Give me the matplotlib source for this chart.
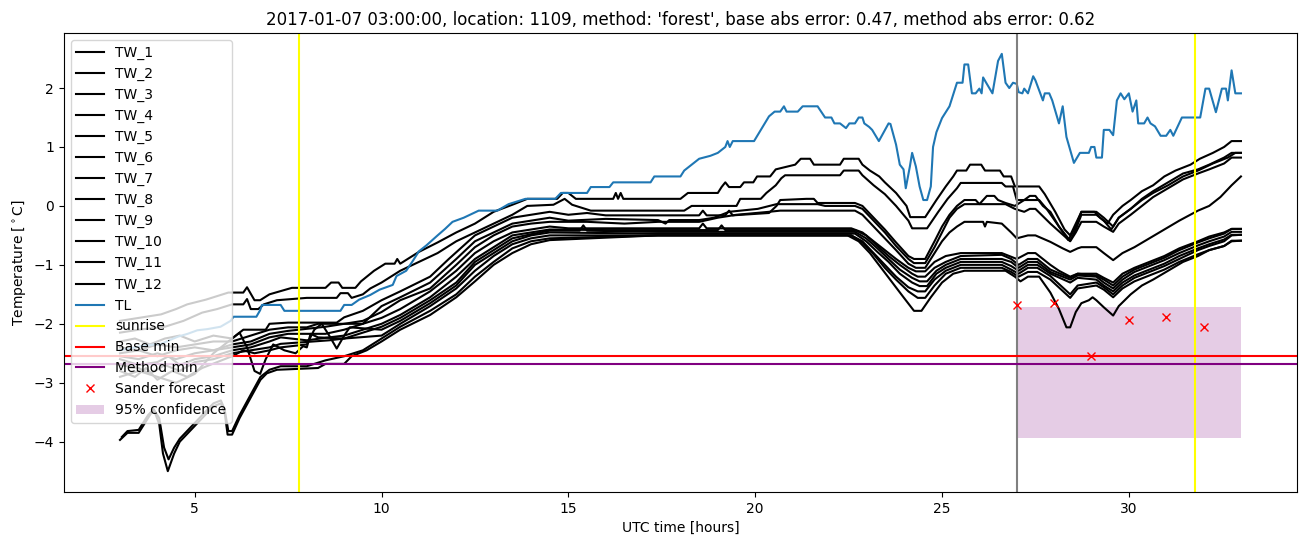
import matplotlib
matplotlib.use('Agg')
import matplotlib.pyplot as plt

title = "2017-01-07 03:00:00, location: 1109, method: 'forest', base abs error: 0.47, method abs error: 0.62"

TL = [(3.0,-2.45),(3.4,-2.4),(3.65,-2.37),(4.1,-2.34),(4.54,-2.22),(4.81,-2.17),(5.07,-2.11),(5.34,-2.09),(5.69,-2.05),(5.96,-1.95),(6.04,-1.88),(6.65,-1.88),(6.75,-1.77),(6.8,-1.68),(7.3,-1.68),(7.4,-1.78),(8.9,-1.78),(9.0,-1.68),(9.2,-1.68),(9.4,-1.59),(9.7,-1.51),(9.95,-1.42),(10.3,-1.34),(10.4,-1.19),(10.66,-1.1),(10.83,-0.94),(11.0,-0.77),(11.2,-0.67),(11.5,-0.5),(11.7,-0.39),(11.9,-0.27),(12.2,-0.2),(12.6,-0.08),(13.1,-0.08),(13.4,0.03),(13.85,0.12),(14.65,0.12),(14.8,0.22),(15.5,0.22),(15.6,0.32),(16.1,0.32),(16.2,0.4),(17.2,0.4),(17.3,0.5),(18.0,0.5),(18.1,0.6),(18.3,0.7),(18.5,0.8),(18.8,0.85),(19.0,0.9),(19.2,1.0),(19.26,1.1),(19.32,1.0),(19.4,1.1),(19.97,1.1),
      (20.37,1.52),(20.52,1.6),(20.67,1.6),(20.77,1.69),(20.84,1.6),(21.14,1.6),(21.27,1.69),(21.67,1.69),(21.87,1.5),(22.04,1.5),(22.12,1.4),(22.27,1.4),(22.43,1.32),(22.52,1.4),(22.67,1.4),(22.77,1.5),(22.87,1.5),(22.92,1.4),(23.05,1.34),(23.13,1.29),(23.31,1.1),(23.57,1.4),(23.62,1.39),(23.77,1.04),(23.87,0.7),(23.97,0.62),(24.03,0.3),
      (24.14,0.67),(24.2,0.9),(24.3,0.67),(24.4,0.33),(24.5,0.1),(24.6,0.1),(24.7,0.33),(24.76,1.0),(24.85,1.25),(25.0,1.49),(25.1,1.59),(25.2,1.69),(25.4,2.09),(25.55,2.09),(25.6,2.4),(25.7,2.4),(25.8,1.91),(25.9,1.91),(26.0,1.99),(26.06,1.91),(26.1,2.18),(26.2,2.07),(26.35,1.91),(26.5,2.46),(26.6,2.58),(26.7,2.09),(26.8,2.0),(26.9,2.09),(27.0,2.07),(27.05,1.93),(27.15,1.91),(27.2,1.99),(27.3,1.91),(27.44,2.2),(27.5,2.13),(27.7,1.79),(27.75,1.91),(27.87,1.91),(27.95,1.79),
      (28.13,1.4),(28.23,1.69),(28.33,1.17),(28.53,0.73),(28.69,0.9),(28.93,0.9),(28.99,1.0),(29.08,1.0),(29.13,0.82),(29.28,0.82),(29.33,1.29),(29.48,1.29),(29.58,1.2),(29.68,1.79),(29.78,1.91),(29.88,1.81),
      (30.0,1.91),(30.1,1.6),(30.2,1.79),(30.25,1.4),(30.41,1.4),(30.5,1.5),(30.58,1.4),(30.7,1.35),(30.85,1.19),(31.0,1.19),(31.11,1.29),(31.19,1.19),(31.42,1.5),(31.91,1.5),(32.05,1.99),(32.15,1.99),(32.33,1.59),(32.49,1.99),(32.6,1.99),(32.65,1.79),(32.75,2.3),(32.85,1.91),(33.0,1.91)]

TW_1 = [(3.0,-1.95),(3.5,-1.9),(4.1,-1.84),(4.5,-1.75),(4.8,-1.67),(5.3,-1.59),(5.9,-1.47),(6.3,-1.47),(6.4,-1.38),(6.6,-1.6),(6.75,-1.6),(7.0,-1.5),(7.6,-1.39),(8.5,-1.39),(8.65,-1.3),(8.85,-1.3),(8.95,-1.39),(9.3,-1.39),(9.45,-1.28),(9.8,-1.1),(10.1,-0.98),(10.35,-0.98),(10.42,-0.9),(10.5,-0.98),(11.0,-0.78),(11.5,-0.62),(12.0,-0.45),(12.5,-0.3),(13.0,-0.1),(13.5,0.02),(13.9,0.12),(14.7,0.12),(14.85,0.22),(15.0,0.22),(15.2,0.12),(16.2,0.12),(16.27,0.22),(16.33,0.12),(16.4,0.22),(16.47,0.12),(18.0,0.12),(18.2,0.22),(19.0,0.22),(19.1,0.32),(19.2,0.4),(19.3,0.32),(19.6,0.32),(19.7,0.4),(19.95,0.4),(20.05,0.5),(20.4,0.5),(20.55,0.62),(21.07,0.7),(21.22,0.8),(21.47,0.8),(21.57,0.7),(22.27,0.7),(22.37,0.8),(22.77,0.8),(22.87,0.7),(23.07,0.6),(23.32,0.5),(23.47,0.4),(23.77,0.22),(24.05,0.0),(24.15,-0.19),(24.55,-0.19),(24.85,0.1),(25.1,0.33),(25.3,0.5),(25.4,0.6),(25.65,0.6),(25.75,0.7),(26.05,0.7),(26.15,0.6),(26.55,0.6),(26.65,0.5),(26.85,0.5),(26.95,0.33),(27.6,0.33),(27.75,0.2),(28.03,-0.1),(28.28,-0.4),(28.43,-0.5),(28.58,-0.3),(28.73,-0.1),(29.08,-0.1),(29.23,-0.2),(29.43,-0.3),(29.58,-0.15),(29.83,0.0),(30.05,0.1),(30.35,0.25),(30.65,0.35),(30.95,0.5),(31.25,0.6),(31.65,0.7),(31.9,0.8),(32.25,0.9),(32.55,1.0),(32.75,1.1),(33.0,1.1)]

TW_2 = [(3.0,-2.15),(3.5,-2.1),(4.2,-2.05),(4.7,-1.95),(5.2,-1.81),(5.6,-1.75),(6.0,-1.67),(6.3,-1.67),(6.4,-1.58),(6.5,-1.75),(6.7,-1.75),(6.85,-1.67),(7.2,-1.6),(8.0,-1.56),(8.8,-1.56),(8.9,-1.48),(9.1,-1.48),(9.2,-1.56),(9.5,-1.5),(9.7,-1.4),(10.0,-1.3),(10.5,-1.1),(11.0,-0.95),(11.5,-0.8),(12.0,-0.6),(12.5,-0.45),(13.0,-0.3),(13.5,-0.15),(13.9,0.0),(14.6,0.02),(14.9,0.12),(15.1,0.02),(15.6,-0.08),(18.1,-0.08),(18.3,0.0),(19.5,0.0),(19.6,0.12),(20.15,0.12),(20.3,0.22),(20.55,0.35),(20.7,0.47),(20.8,0.52),(22.27,0.52),(22.37,0.6),(22.77,0.6),(22.87,0.52),(23.17,0.35),(23.47,0.2),(23.77,0.0),(24.1,-0.25),(24.2,-0.38),(24.6,-0.38),(24.9,-0.1),(25.15,0.12),(25.4,0.3),(25.5,0.39),(26.6,0.39),(26.7,0.33),(26.9,0.33),(27.0,0.1),(27.6,0.1),(27.8,-0.05),(28.13,-0.35),(28.43,-0.59),(28.58,-0.4),(28.73,-0.15),(29.13,-0.15),(29.33,-0.25),(29.53,-0.4),(29.73,-0.2),(30.05,-0.05),(30.35,0.1),(30.65,0.22),(31.05,0.35),(31.45,0.5),(31.85,0.6),(32.25,0.72),(32.65,0.82),(32.85,0.9),(33.0,0.9)]

TW_3 = [(3.0,-2.3),(3.4,-2.25),(3.8,-2.35),(4.2,-2.25),(4.6,-2.2),(5.0,-2.3),(5.5,-2.2),(6.0,-2.25),(6.3,-2.1),(6.9,-2.1),(7.0,-2.0),(7.5,-1.98),(8.8,-1.98),(9.0,-1.89),(9.5,-1.78),(10.0,-1.6),(10.5,-1.45),(11.3,-1.2),(11.8,-0.9),(12.5,-0.5),(13.0,-0.35),(13.5,-0.2),(14.0,-0.15),(14.5,-0.1),(15.0,-0.15),(15.5,-0.12),(16.0,-0.16),(18.5,-0.16),(18.6,-0.08),(18.7,-0.16),(19.2,-0.16),(19.3,-0.08),(19.4,-0.16),(20.37,-0.12),(20.57,0.0),(20.67,0.1),(21.37,0.12),(21.57,0.12),(21.67,0.05),(22.67,0.05),(22.87,0.0),(23.17,-0.2),(23.47,-0.4),(23.77,-0.62),(24.1,-0.85),(24.25,-0.9),(24.55,-0.9),(24.8,-0.6),(25.0,-0.35),(25.2,-0.15),(25.4,0.0),(25.6,0.1),(25.9,0.1),(26.0,0.03),(26.1,0.1),(26.2,0.17),(26.4,0.17),(26.5,0.1),(26.7,0.05),(26.95,0.0),(27.2,0.1),(27.35,0.17),(27.5,0.17),(27.7,0.0),(27.9,-0.1),(28.13,-0.35),(28.38,-0.58),(28.58,-0.35),(28.73,-0.1),(29.13,-0.1),(29.33,-0.2),(29.58,-0.35),(29.73,-0.2),(30.05,-0.05),(30.35,0.12),(30.65,0.25),(31.05,0.4),(31.45,0.55),(31.85,0.62),(32.15,0.7),(32.55,0.82),(32.75,0.9),(33.0,0.9)]

TW_4 = [(3.0,-2.4),(3.5,-2.45),(4.0,-2.35),(4.5,-2.4),(5.0,-2.35),(5.5,-2.3),(6.0,-2.3),(6.5,-2.2),(7.0,-2.1),(7.5,-2.06),(8.0,-2.06),(8.3,-2.0),(9.5,-2.0),(10.0,-1.7),(10.5,-1.55),(11.3,-1.3),(12.0,-0.9),(12.5,-0.6),(13.0,-0.45),(13.5,-0.3),(14.0,-0.25),(14.5,-0.2),(15.0,-0.25),(16.0,-0.22),(17.4,-0.24),(17.6,-0.3),(17.7,-0.24),(18.5,-0.24),(18.9,-0.2),(19.3,-0.1),(20.07,-0.05),(20.57,0.03),(21.67,0.03),(21.87,0.0),(22.67,0.0),(22.87,-0.05),(23.17,-0.25),(23.47,-0.45),(23.77,-0.68),(24.1,-0.9),(24.25,-0.97),(24.55,-0.97),(24.8,-0.7),(25.0,-0.45),(25.2,-0.2),(25.4,-0.05),(25.6,0.03),(26.7,0.03),(26.95,-0.05),(27.2,-0.1),(27.35,-0.05),(27.5,-0.05),(27.9,-0.3),(28.43,-0.6),(28.58,-0.45),(28.73,-0.27),(29.13,-0.27),(29.33,-0.35),(29.58,-0.44),(29.73,-0.3),(30.05,-0.15),(30.35,0.0),(30.65,0.15),(31.05,0.3),(31.45,0.45),(31.85,0.55),(32.15,0.62),(32.55,0.72),(32.75,0.82),(33.0,0.82)]

TW_5 = [(3.0,-2.5),(3.5,-2.45),(4.0,-2.55),(4.5,-2.45),(5.0,-2.4),(5.5,-2.45),(6.0,-2.35),(6.5,-2.3),(7.0,-2.17),(7.5,-2.12),(8.5,-2.05),(9.5,-1.95),(10.0,-1.8),(10.5,-1.6),(11.3,-1.4),(12.0,-1.0),(12.5,-0.7),(13.0,-0.5),(13.5,-0.35),(14.0,-0.3),(14.5,-0.27),(15.5,-0.27),(16.5,-0.3),(17.4,-0.27),(18.5,-0.27),(19.0,-0.2),(19.5,-0.15),(20.37,-0.1),(20.67,-0.08),(22.67,-0.08),(22.87,-0.15),(23.17,-0.35),(23.47,-0.55),(23.77,-0.75),(24.1,-0.98),(24.3,-1.05),(24.55,-1.05),(24.8,-0.8),(25.0,-0.6),(25.2,-0.45),(25.4,-0.35),(25.6,-0.27),(26.1,-0.27),(26.15,-0.35),(26.2,-0.27),(26.6,-0.3),(26.85,-0.45),(27.0,-0.55),(27.3,-0.5),(27.5,-0.5),(27.9,-0.61),(28.23,-0.72),(28.43,-0.78),(28.63,-0.72),(28.73,-0.7),(29.13,-0.7),(29.33,-0.8),(29.58,-0.92),(29.83,-0.8),(30.15,-0.7),(30.55,-0.55),(30.95,-0.4),(31.35,-0.25),(31.85,-0.08),(32.15,0.0),(32.45,0.15),(32.75,0.35),(33.0,0.5)]

TW_6 = [(3.0,-2.55),(3.5,-2.6),(4.0,-2.5),(4.5,-2.6),(5.0,-2.5),(5.5,-2.45),(6.0,-2.4),(6.5,-2.35),(7.0,-2.23),(7.5,-2.17),(8.5,-2.17),(9.0,-2.1),(10.0,-1.9),(10.5,-1.75),(11.3,-1.45),(12.0,-1.1),(12.5,-0.8),(13.0,-0.6),(13.5,-0.45),(14.0,-0.4),(14.5,-0.35),(15.0,-0.38),(18.5,-0.38),(18.6,-0.3),(18.7,-0.38),(22.57,-0.38),(22.87,-0.45),(23.17,-0.6),(23.47,-0.75),(23.77,-0.9),(24.1,-1.05),(24.3,-1.11),(24.55,-1.11),(24.8,-0.95),(25.1,-0.85),(25.5,-0.8),(26.6,-0.8),(26.8,-0.85),(27.0,-0.9),(27.3,-0.8),(27.5,-0.8),(27.9,-1.0),(28.13,-1.1),(28.43,-1.2),(28.63,-1.15),(29.13,-1.15),(29.33,-1.22),(29.58,-1.3),(29.83,-1.15),(30.15,-1.05),(30.55,-0.95),(30.95,-0.85),(31.35,-0.72),(31.85,-0.6),(32.15,-0.52),(32.55,-0.45),(32.75,-0.39),(33.0,-0.39)]

TW_7 = [(3.0,-2.6),(3.5,-2.7),(4.0,-2.65),(4.3,-2.55),(4.6,-2.7),(5.0,-2.6),(5.5,-2.55),(6.0,-2.45),(6.5,-2.4),(7.0,-2.3),(7.3,-2.23),(8.0,-2.28),(8.6,-2.23),(9.0,-2.2),(10.0,-2.0),(10.5,-1.85),(11.3,-1.55),(12.0,-1.2),(12.5,-0.9),(13.0,-0.7),(13.5,-0.5),(14.0,-0.45),(14.5,-0.4),(16.0,-0.41),(19.0,-0.41),(19.1,-0.33),(19.2,-0.41),(22.67,-0.41),(22.97,-0.5),(23.27,-0.68),(23.57,-0.85),(23.87,-1.0),(24.2,-1.15),(24.35,-1.2),(24.55,-1.2),(24.8,-1.05),(25.1,-0.95),(25.5,-0.85),(26.6,-0.83),(26.85,-0.9),(27.05,-1.0),(27.3,-0.9),(27.55,-0.9),(27.9,-1.08),(28.43,-1.22),(28.63,-1.15),(29.13,-1.18),(29.33,-1.25),(29.58,-1.35),(29.83,-1.2),(30.15,-1.08),(30.55,-0.98),(30.95,-0.88),(31.35,-0.75),(31.85,-0.62),(32.15,-0.55),(32.55,-0.47),(32.75,-0.39),(33.0,-0.39)]

TW_8 = [(3.0,-2.7),(3.5,-2.75),(3.8,-2.85),(4.2,-2.7),(4.6,-2.8),(5.0,-2.65),(5.5,-2.6),(6.0,-2.5),(6.5,-2.45),(7.0,-2.4),(7.3,-2.34),(8.6,-2.28),(9.0,-2.25),(10.0,-2.05),(10.5,-1.9),(11.3,-1.6),(12.0,-1.3),(12.5,-0.95),(13.0,-0.75),(13.5,-0.55),(14.0,-0.48),(14.5,-0.42),(15.3,-0.42),(15.4,-0.33),(15.5,-0.42),(17.4,-0.44),(22.67,-0.44),(22.97,-0.55),(23.27,-0.72),(23.57,-0.9),(23.87,-1.08),(24.2,-1.22),(24.4,-1.28),(24.6,-1.28),(24.85,-1.1),(25.1,-1.0),(25.5,-0.9),(26.6,-0.9),(26.85,-0.95),(27.05,-1.05),(27.3,-0.95),(27.55,-0.95),(27.9,-1.12),(28.43,-1.25),(28.63,-1.18),(29.13,-1.2),(29.33,-1.3),(29.58,-1.4),(29.83,-1.25),(30.15,-1.12),(30.55,-1.02),(30.95,-0.92),(31.35,-0.8),(31.85,-0.67),(32.15,-0.6),(32.55,-0.52),(32.75,-0.44),(33.0,-0.44)]

TW_9 = [(3.0,-2.8),(3.4,-2.9),(3.7,-2.75),(4.0,-2.95),(4.4,-2.8),(4.8,-2.9),(5.2,-2.75),(5.6,-2.65),(6.0,-2.55),(6.3,-2.45),(6.6,-2.5),(7.0,-2.45),(7.3,-2.4),(8.0,-2.35),(8.2,-2.1),(8.4,-2.0),(8.6,-2.2),(8.8,-2.42),(9.0,-2.2),(9.15,-2.06),(10.0,-2.1),(10.5,-1.95),(11.3,-1.65),(12.0,-1.35),(12.5,-1.0),(13.0,-0.8),(13.5,-0.6),(14.0,-0.5),(14.5,-0.45),(17.4,-0.47),(22.67,-0.47),(22.97,-0.6),(23.27,-0.78),(23.57,-0.95),(23.87,-1.15),(24.2,-1.3),(24.4,-1.36),(24.6,-1.36),(24.85,-1.15),(25.1,-1.05),(25.5,-0.95),(26.6,-0.95),(26.85,-1.02),(27.05,-1.1),(27.3,-1.0),(27.55,-1.0),(27.9,-1.15),(28.43,-1.3),(28.63,-1.22),(29.13,-1.25),(29.33,-1.35),(29.58,-1.45),(29.83,-1.3),(30.15,-1.18),(30.55,-1.08),(30.95,-0.98),(31.35,-0.85),(31.85,-0.72),(32.15,-0.65),(32.55,-0.57),(32.75,-0.49),(33.0,-0.49)]

TW_10 = [(3.0,-2.9),(3.5,-2.8),(4.0,-2.9),(4.5,-3.0),(5.0,-2.85),(5.5,-2.5),(5.9,-2.3),(6.2,-2.15),(6.4,-2.4),(6.6,-2.8),(6.75,-2.85),(6.9,-2.6),(7.1,-2.35),(7.4,-2.45),(7.7,-2.5),(7.9,-2.38),(8.0,-2.4),(8.1,-2.17),(8.3,-2.23),(9.0,-2.25),(10.0,-2.2),(10.5,-2.0),(11.3,-1.7),(12.0,-1.4),(12.5,-1.1),(13.0,-0.85),(13.5,-0.65),(14.0,-0.55),(14.5,-0.5),(22.57,-0.5),(22.87,-0.6),(23.17,-0.8),(23.47,-1.0),(23.77,-1.2),(24.1,-1.38),(24.35,-1.45),(24.55,-1.45),(24.8,-1.25),(25.1,-1.1),(25.5,-1.0),(26.6,-1.0),(26.85,-1.08),(27.05,-1.15),(27.3,-1.05),(27.55,-1.05),(27.9,-1.19),(28.43,-1.5),(28.63,-1.35),(29.13,-1.3),(29.33,-1.38),(29.58,-1.5),(29.83,-1.35),(30.15,-1.22),(30.55,-1.12),(30.95,-1.02),(31.35,-0.9),(31.85,-0.75),(32.15,-0.68),(32.55,-0.6),(32.75,-0.5),(33.0,-0.49)]

TW_11 = [(3.05,-3.92),(3.2,-3.82),(3.5,-3.8),(3.75,-3.55),(3.9,-3.45),(4.05,-3.6),(4.18,-4.1),(4.3,-4.3),(4.45,-4.1),(4.6,-3.95),(4.9,-3.75),(5.2,-3.55),(5.5,-3.35),(5.7,-3.3),(5.8,-3.45),(5.9,-3.82),(6.0,-3.82),(6.2,-3.55),(6.5,-3.2),(6.76,-2.9),(7.0,-2.78),(7.3,-2.72),(8.0,-2.72),(8.5,-2.62),(9.0,-2.55),(9.5,-2.45),(10.0,-2.25),(10.5,-2.05),(11.3,-1.78),(12.0,-1.5),(12.5,-1.2),(13.0,-0.95),(13.5,-0.72),(14.0,-0.6),(14.5,-0.55),(17.4,-0.5),(22.57,-0.5),(22.87,-0.62),(23.17,-0.82),(23.47,-1.05),(23.77,-1.25),(24.1,-1.45),(24.35,-1.56),(24.55,-1.56),(24.8,-1.35),(25.1,-1.15),(25.5,-1.05),(26.6,-1.05),(26.85,-1.12),(27.05,-1.2),(27.3,-1.12),(27.55,-1.12),(27.9,-1.25),(28.43,-1.56),(28.63,-1.4),(29.13,-1.35),(29.33,-1.42),(29.58,-1.55),(29.83,-1.4),(30.15,-1.28),(30.55,-1.18),(30.95,-1.08),(31.35,-0.95),(31.85,-0.82),(32.15,-0.75),(32.55,-0.68),(32.75,-0.59),(33.0,-0.59)]

TW_12 = [(3.0,-3.97),(3.2,-3.85),(3.5,-3.85),(3.75,-3.6),(3.9,-3.45),(4.05,-3.7),(4.15,-4.2),(4.28,-4.5),(4.45,-4.2),(4.6,-4.0),(4.9,-3.8),(5.2,-3.6),(5.5,-3.4),(5.7,-3.35),(5.8,-3.5),(5.88,-3.88),(6.0,-3.88),(6.2,-3.6),(6.5,-3.25),(6.76,-2.95),(6.93,-2.84),(7.2,-2.78),(8.3,-2.75),(8.5,-2.68),(9.0,-2.68),(9.2,-2.55),(9.6,-2.45),(10.0,-2.3),(10.5,-2.1),(11.3,-1.85),(12.0,-1.55),(12.5,-1.28),(13.0,-1.0),(13.5,-0.8),(14.0,-0.65),(14.5,-0.58),(17.4,-0.5),(22.47,-0.5),(22.77,-0.6),(23.07,-0.8),(23.37,-1.05),(23.67,-1.3),(23.97,-1.55),(24.25,-1.78),(24.45,-1.78),(24.7,-1.55),(25.0,-1.3),(25.3,-1.15),(25.6,-1.1),(26.7,-1.1),(26.95,-1.2),(27.1,-1.28),(27.3,-1.2),(27.6,-1.2),(27.9,-1.47),(28.13,-1.75),(28.33,-2.06),(28.43,-2.06),(28.58,-1.8),(28.73,-1.65),(28.93,-1.6),(29.03,-1.55),(29.13,-1.6),(29.33,-1.72),(29.58,-1.86),(29.73,-1.7),(30.05,-1.5),(30.35,-1.35),(30.65,-1.25),(31.05,-1.1),(31.45,-0.95),(31.85,-0.85),(32.15,-0.75),(32.55,-0.68),(32.75,-0.6),(33.0,-0.59)]

TW_SERIES = [TW_1, TW_2, TW_3, TW_4, TW_5, TW_6, TW_7, TW_8, TW_9, TW_10, TW_11, TW_12]
TW_LABELS = [f"TW_{i}" for i in range(1, 13)]

sunrise_hours = [7.78, 31.77]
forecast_start = 27.0
base_min = -2.54
method_min = -2.69
sander_hours = [27, 28, 29, 30, 31, 32]
sander_values = [-1.68, -1.65, -2.55, -1.94, -1.89, -2.06]
conf_hours = [27.0, 33.0]
conf_low = -3.94
conf_high = -1.71

fig, ax = plt.subplots(figsize=(13.13, 5.47), dpi=100)
fig.subplots_adjust(left=0.0487, right=0.9878, top=0.9397, bottom=0.1005)

for series, lab in zip(TW_SERIES, TW_LABELS):
    xs = [p[0] for p in series]
    ys = [p[1] for p in series]
    ax.plot(xs, ys, color='black', label=lab)

ax.plot([p[0] for p in TL], [p[1] for p in TL], color='C0', label='TL')
ax.axvline(sunrise_hours[0], color='yellow', label='sunrise')
ax.axvline(sunrise_hours[1], color='yellow')
ax.axvline(forecast_start, color='gray')
ax.axhline(base_min, color='red', label='Base min')
ax.axhline(method_min, color='purple', label='Method min')
ax.plot(sander_hours, sander_values, 'x', color='red', label='Sander forecast')
ax.fill_between(conf_hours, [conf_low, conf_low], [conf_high, conf_high],
                color='purple', alpha=0.2, linewidth=0, label='95% confidence')

ax.set_title(title)
ax.set_xlabel('UTC time [hours]')
ax.set_ylabel('Temperature [$^\\circ$C]')
ax.legend(loc='upper left')

fig.savefig('out.png', dpi=100)
